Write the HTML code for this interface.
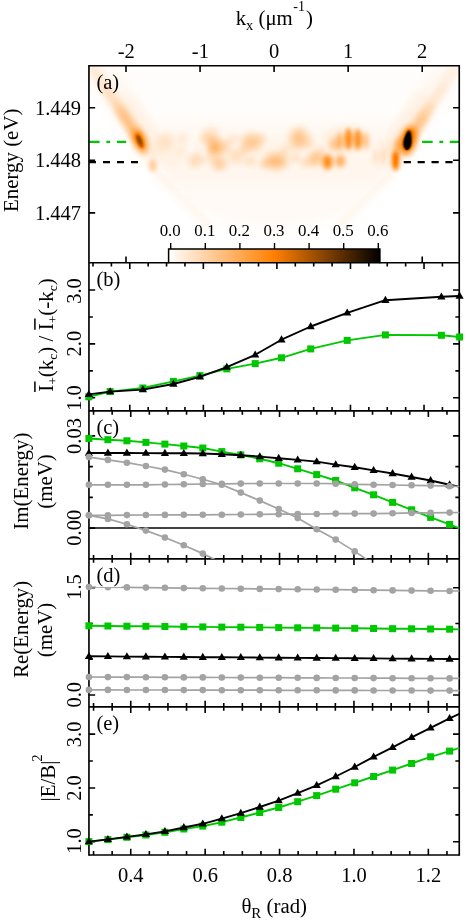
<!DOCTYPE html>
<html><head><meta charset="utf-8"><title>figure</title>
<style>html,body{margin:0;padding:0;background:#fff;}body{width:469px;height:923px;overflow:hidden;}svg{display:block;will-change:transform;}text{font-family:"Liberation Serif",serif;fill:#000;}</style></head><body>
<svg width="469" height="923" viewBox="0 0 469 923">
<rect width="469" height="923" fill="#fff"/>
<defs>
<linearGradient id="cb" x1="0" x2="1" y1="0" y2="0"><stop offset="0" stop-color="#fff"/><stop offset="0.5" stop-color="#ff8000"/><stop offset="1" stop-color="#000"/></linearGradient>
<filter id="b2" x="-50%" y="-50%" width="200%" height="200%"><feGaussianBlur stdDeviation="2"/></filter>
<filter id="b3" x="-50%" y="-50%" width="200%" height="200%"><feGaussianBlur stdDeviation="3"/></filter>
<filter id="b4" x="-50%" y="-50%" width="200%" height="200%"><feGaussianBlur stdDeviation="4"/></filter>
<filter id="b6" x="-50%" y="-50%" width="200%" height="200%"><feGaussianBlur stdDeviation="6"/></filter>
<filter id="b8" x="-50%" y="-50%" width="200%" height="200%"><feGaussianBlur stdDeviation="8"/></filter>
<filter id="b12" x="-50%" y="-50%" width="200%" height="200%"><feGaussianBlur stdDeviation="12"/></filter>
<filter id="b1" x="-50%" y="-50%" width="200%" height="200%"><feGaussianBlur stdDeviation="1"/></filter>
<filter id="b15" x="-50%" y="-50%" width="200%" height="200%"><feGaussianBlur stdDeviation="1.5"/></filter>
<clipPath id="cpa"><rect x="88.95" y="65.7" width="370.3" height="197.0"/></clipPath>
<clipPath id="cp1"><rect x="82.95" y="262.7" width="382.3" height="148.2"/></clipPath>
<clipPath id="cp2"><rect x="82.95" y="410.9" width="382.3" height="148.0"/></clipPath>
<clipPath id="cp3"><rect x="82.95" y="558.9" width="382.3" height="148.0"/></clipPath>
<clipPath id="cp4"><rect x="82.95" y="706.9" width="382.3" height="148.10000000000002"/></clipPath>
</defs>
<g clip-path="url(#cpa)">
<filter id="cmap" x="0" y="0" width="100%" height="100%" filterUnits="objectBoundingBox" color-interpolation-filters="sRGB"><feComponentTransfer><feFuncR type="table" tableValues="1 1 0"/><feFuncG type="table" tableValues="1 0.5 0"/><feFuncB type="table" tableValues="1 0 0"/></feComponentTransfer></filter>
<filter id="hb9" x="-100%" y="-100%" width="300%" height="300%" filterUnits="objectBoundingBox" color-interpolation-filters="sRGB"><feGaussianBlur stdDeviation="9"/></filter>
<filter id="hb5" x="-100%" y="-100%" width="300%" height="300%" filterUnits="objectBoundingBox" color-interpolation-filters="sRGB"><feGaussianBlur stdDeviation="5"/></filter>
<filter id="hb10" x="-100%" y="-100%" width="300%" height="300%" filterUnits="objectBoundingBox" color-interpolation-filters="sRGB"><feGaussianBlur stdDeviation="10"/></filter>
<filter id="hb8" x="-100%" y="-100%" width="300%" height="300%" filterUnits="objectBoundingBox" color-interpolation-filters="sRGB"><feGaussianBlur stdDeviation="8"/></filter>
<filter id="hb6" x="-100%" y="-100%" width="300%" height="300%" filterUnits="objectBoundingBox" color-interpolation-filters="sRGB"><feGaussianBlur stdDeviation="6"/></filter>
<filter id="hb3_5" x="-100%" y="-100%" width="300%" height="300%" filterUnits="objectBoundingBox" color-interpolation-filters="sRGB"><feGaussianBlur stdDeviation="3.5"/></filter>
<filter id="hb4_5" x="-100%" y="-100%" width="300%" height="300%" filterUnits="objectBoundingBox" color-interpolation-filters="sRGB"><feGaussianBlur stdDeviation="4.5"/></filter>
<filter id="hb7" x="-100%" y="-100%" width="300%" height="300%" filterUnits="objectBoundingBox" color-interpolation-filters="sRGB"><feGaussianBlur stdDeviation="7"/></filter>
<filter id="hb4" x="-100%" y="-100%" width="300%" height="300%" filterUnits="objectBoundingBox" color-interpolation-filters="sRGB"><feGaussianBlur stdDeviation="4"/></filter>
<filter id="hb3" x="-100%" y="-100%" width="300%" height="300%" filterUnits="objectBoundingBox" color-interpolation-filters="sRGB"><feGaussianBlur stdDeviation="3"/></filter>
<filter id="hb1_5" x="-100%" y="-100%" width="300%" height="300%" filterUnits="objectBoundingBox" color-interpolation-filters="sRGB"><feGaussianBlur stdDeviation="1.5"/></filter>
<filter id="hb2_8" x="-100%" y="-100%" width="300%" height="300%" filterUnits="objectBoundingBox" color-interpolation-filters="sRGB"><feGaussianBlur stdDeviation="2.8"/></filter>
<filter id="hb3_2" x="-100%" y="-100%" width="300%" height="300%" filterUnits="objectBoundingBox" color-interpolation-filters="sRGB"><feGaussianBlur stdDeviation="3.2"/></filter>
<filter id="hb1_1" x="-100%" y="-100%" width="300%" height="300%" filterUnits="objectBoundingBox" color-interpolation-filters="sRGB"><feGaussianBlur stdDeviation="1.1"/></filter>
<filter id="hb1_0" x="-100%" y="-100%" width="300%" height="300%" filterUnits="objectBoundingBox" color-interpolation-filters="sRGB"><feGaussianBlur stdDeviation="1.0"/></filter>
<filter id="hb0_6" x="-100%" y="-100%" width="300%" height="300%" filterUnits="objectBoundingBox" color-interpolation-filters="sRGB"><feGaussianBlur stdDeviation="0.6"/></filter>
<filter id="hb2" x="-100%" y="-100%" width="300%" height="300%" filterUnits="objectBoundingBox" color-interpolation-filters="sRGB"><feGaussianBlur stdDeviation="2"/></filter>
<filter id="hb2_4" x="-100%" y="-100%" width="300%" height="300%" filterUnits="objectBoundingBox" color-interpolation-filters="sRGB"><feGaussianBlur stdDeviation="2.4"/></filter>
<filter id="hb3_8" x="-100%" y="-100%" width="300%" height="300%" filterUnits="objectBoundingBox" color-interpolation-filters="sRGB"><feGaussianBlur stdDeviation="3.8"/></filter>
<filter id="hb3_6" x="-100%" y="-100%" width="300%" height="300%" filterUnits="objectBoundingBox" color-interpolation-filters="sRGB"><feGaussianBlur stdDeviation="3.6"/></filter>
<filter id="hb2_6" x="-100%" y="-100%" width="300%" height="300%" filterUnits="objectBoundingBox" color-interpolation-filters="sRGB"><feGaussianBlur stdDeviation="2.6"/></filter>
<filter id="hb2_3" x="-100%" y="-100%" width="300%" height="300%" filterUnits="objectBoundingBox" color-interpolation-filters="sRGB"><feGaussianBlur stdDeviation="2.3"/></filter>
<g filter="url(#cmap)"><rect x="80" y="55" width="390" height="220" fill="#000"/>
<path d="M92 66 L140 141 L152 166 L196 212 Q274 262 352 212 L396 166 L408 141 L456 66 Z" fill="#fff" fill-opacity="0.006" filter="url(#hb9)"/>
<path d="M120 105 L140 141 L152 166 L196 212 Q274 262 352 212 L396 166 L408 141 L428 105 Z" fill="#fff" fill-opacity="0.006" filter="url(#hb9)"/>
<path d="M150 158 H398 L345 214 Q274 240 203 214 Z" fill="#fff" fill-opacity="0.012" filter="url(#hb5)"/>
<path d="M150 122 H398 L392 172 L380 186 H168 L156 172 Z" fill="#fff" fill-opacity="0.018" filter="url(#hb10)"/>
<path d="M104 72 L151 147" fill="none" stroke="#fff" stroke-opacity="0.025" stroke-width="30" stroke-linecap="round" filter="url(#hb8)"/>
<path d="M444 72 L397 147" fill="none" stroke="#fff" stroke-opacity="0.025" stroke-width="30" stroke-linecap="round" filter="url(#hb8)"/>
<path d="M126 102 L153 147" fill="none" stroke="#fff" stroke-opacity="0.03" stroke-width="22" stroke-linecap="round" filter="url(#hb6)"/>
<path d="M422 102 L395 147" fill="none" stroke="#fff" stroke-opacity="0.035" stroke-width="22" stroke-linecap="round" filter="url(#hb6)"/>
<path d="M90 64 L139 139" fill="none" stroke="#fff" stroke-opacity="0.075" stroke-width="11" stroke-linecap="round" filter="url(#hb3_5)"/>
<path d="M105 88 L140 141" fill="none" stroke="#fff" stroke-opacity="0.05" stroke-width="10" stroke-linecap="round" filter="url(#hb3_5)"/>
<path d="M118 108 L141 143" fill="none" stroke="#fff" stroke-opacity="0.06" stroke-width="10" stroke-linecap="round" filter="url(#hb3_5)"/>
<path d="M458 64 L409 139" fill="none" stroke="#fff" stroke-opacity="0.05" stroke-width="11" stroke-linecap="round" filter="url(#hb3_5)"/>
<path d="M443 88 L408 141" fill="none" stroke="#fff" stroke-opacity="0.035" stroke-width="10" stroke-linecap="round" filter="url(#hb3_5)"/>
<path d="M430 108 L407 143" fill="none" stroke="#fff" stroke-opacity="0.06" stroke-width="10" stroke-linecap="round" filter="url(#hb3_5)"/>
<path d="M142 146 L156 172 L208 224" fill="none" stroke="#fff" stroke-opacity="0.035" stroke-width="9" stroke-linecap="round" filter="url(#hb3_5)"/>
<path d="M406 146 L392 172 L340 224" fill="none" stroke="#fff" stroke-opacity="0.035" stroke-width="9" stroke-linecap="round" filter="url(#hb3_5)"/>
<ellipse cx="347" cy="140" rx="22" ry="11" fill="#fff" fill-opacity="0.09" filter="url(#hb6)"/>
<ellipse cx="331" cy="161" rx="17" ry="6" fill="#fff" fill-opacity="0.08" filter="url(#hb4_5)"/>
<ellipse cx="216" cy="148" rx="18" ry="12" fill="#fff" fill-opacity="0.04" filter="url(#hb6)"/>
<ellipse cx="268" cy="152" rx="30" ry="14" fill="#fff" fill-opacity="0.025" filter="url(#hb8)"/>
<ellipse cx="300" cy="140" rx="14" ry="12" fill="#fff" fill-opacity="0.04" filter="url(#hb6)"/>
<ellipse cx="385" cy="155" rx="14" ry="12" fill="#fff" fill-opacity="0.05" filter="url(#hb6)"/>
<ellipse cx="170" cy="150" rx="16" ry="14" fill="#fff" fill-opacity="0.04" filter="url(#hb7)"/>
<path d="M423 117 L409 139" fill="none" stroke="#fff" stroke-opacity="0.1" stroke-width="11" stroke-linecap="round" filter="url(#hb4)"/>
<path d="M123 114 L139 139" fill="none" stroke="#fff" stroke-opacity="0.09" stroke-width="11" stroke-linecap="round" filter="url(#hb4)"/>
<ellipse cx="140" cy="141.5" rx="6.2" ry="13" fill="#fff" fill-opacity="0.33" filter="url(#hb3)" transform="rotate(-22 140 141.5)"/>
<ellipse cx="139.8" cy="141.3" rx="3.0" ry="7.8" fill="#fff" fill-opacity="0.5" filter="url(#hb1_5)" transform="rotate(-22 139.8 141.3)"/>
<ellipse cx="152.8" cy="165.5" rx="3.5" ry="6.5" fill="#fff" fill-opacity="0.2" filter="url(#hb2_8)"/>
<ellipse cx="408" cy="141" rx="8" ry="14.5" fill="#fff" fill-opacity="0.45" filter="url(#hb3_2)" transform="rotate(14 408 141)"/>
<ellipse cx="407.4" cy="143" rx="4.3" ry="7.2" fill="#fff" fill-opacity="1.0" filter="url(#hb1_1)" transform="rotate(4 407.4 143)"/>
<ellipse cx="408.2" cy="137.5" rx="3.0" ry="7.5" fill="#fff" fill-opacity="1.0" filter="url(#hb1_0)" transform="rotate(7 408.2 137.5)"/>
<ellipse cx="407.6" cy="141.5" rx="3.0" ry="8.5" fill="#fff" fill-opacity="1.0" filter="url(#hb0_6)" transform="rotate(5 407.6 141.5)"/>
<ellipse cx="395.6" cy="161" rx="3.4" ry="9.5" fill="#fff" fill-opacity="0.56" filter="url(#hb2)"/>
<ellipse cx="397" cy="147" rx="3" ry="10" fill="#fff" fill-opacity="0.22" filter="url(#hb2_4)" transform="rotate(8 397 147)"/>
<ellipse cx="165.6" cy="140.7" rx="7" ry="8" fill="#fff" fill-opacity="0.08" filter="url(#hb4)"/>
<ellipse cx="216.8" cy="147.5" rx="7" ry="7" fill="#fff" fill-opacity="0.27" filter="url(#hb4)"/>
<ellipse cx="210.4" cy="135.6" rx="8" ry="7" fill="#fff" fill-opacity="0.13" filter="url(#hb4)"/>
<ellipse cx="195" cy="160" rx="6" ry="7" fill="#fff" fill-opacity="0.13" filter="url(#hb3_8)"/>
<ellipse cx="219.3" cy="163.7" rx="7" ry="6" fill="#fff" fill-opacity="0.18" filter="url(#hb3_6)"/>
<ellipse cx="236" cy="156" rx="7" ry="7" fill="#fff" fill-opacity="0.13" filter="url(#hb4)"/>
<ellipse cx="251.5" cy="142" rx="10" ry="8" fill="#fff" fill-opacity="0.2" filter="url(#hb4_5)"/>
<ellipse cx="298.9" cy="138.5" rx="8" ry="10" fill="#fff" fill-opacity="0.2" filter="url(#hb4_5)"/>
<ellipse cx="275.8" cy="161.2" rx="11" ry="7" fill="#fff" fill-opacity="0.25" filter="url(#hb4_5)"/>
<ellipse cx="314.2" cy="158.6" rx="7" ry="7" fill="#fff" fill-opacity="0.19" filter="url(#hb3_8)"/>
<ellipse cx="327.5" cy="162" rx="4.5" ry="7.5" fill="#fff" fill-opacity="0.42" filter="url(#hb2_6)"/>
<ellipse cx="340.5" cy="161" rx="4.5" ry="6" fill="#fff" fill-opacity="0.26" filter="url(#hb2_8)"/>
<ellipse cx="339.5" cy="142" rx="3" ry="9" fill="#fff" fill-opacity="0.26" filter="url(#hb2_4)"/>
<ellipse cx="348.5" cy="139" rx="3.6" ry="11" fill="#fff" fill-opacity="0.4" filter="url(#hb2_3)"/>
<ellipse cx="357.8" cy="139.5" rx="3.6" ry="10.5" fill="#fff" fill-opacity="0.38" filter="url(#hb2_3)"/>
<ellipse cx="365.5" cy="141" rx="3" ry="8.5" fill="#fff" fill-opacity="0.2" filter="url(#hb2_4)"/>
<ellipse cx="375" cy="157" rx="2" ry="8" fill="#fff" fill-opacity="0.07" filter="url(#hb2)"/>
<ellipse cx="212" cy="150" rx="3" ry="14" fill="#fff" fill-opacity="0.1" filter="url(#hb3)"/>
<ellipse cx="183" cy="138" rx="5" ry="5" fill="#fff" fill-opacity="0.07" filter="url(#hb3_5)"/>
<ellipse cx="181" cy="152" rx="4" ry="5" fill="#fff" fill-opacity="0.06" filter="url(#hb3_5)"/>
<ellipse cx="204.5" cy="139" rx="5" ry="4" fill="#fff" fill-opacity="0.08" filter="url(#hb3)"/>
<ellipse cx="233" cy="139" rx="6" ry="4" fill="#fff" fill-opacity="0.09" filter="url(#hb3)"/>
<ellipse cx="244" cy="150" rx="5" ry="5" fill="#fff" fill-opacity="0.07" filter="url(#hb3)"/>
<ellipse cx="262" cy="138" rx="5" ry="4" fill="#fff" fill-opacity="0.08" filter="url(#hb3)"/>
<ellipse cx="285" cy="150" rx="6" ry="5" fill="#fff" fill-opacity="0.08" filter="url(#hb3_5)"/>
<ellipse cx="250" cy="161" rx="6" ry="4" fill="#fff" fill-opacity="0.1" filter="url(#hb3)"/>
<ellipse cx="264" cy="164" rx="5" ry="3.5" fill="#fff" fill-opacity="0.1" filter="url(#hb3)"/>
<ellipse cx="296" cy="158" rx="6" ry="4" fill="#fff" fill-opacity="0.1" filter="url(#hb3)"/>
<ellipse cx="305" cy="163" rx="5" ry="4" fill="#fff" fill-opacity="0.1" filter="url(#hb3)"/>
<ellipse cx="320.5" cy="152" rx="5" ry="6" fill="#fff" fill-opacity="0.1" filter="url(#hb3)"/>
<ellipse cx="333" cy="145" rx="4" ry="6" fill="#fff" fill-opacity="0.14" filter="url(#hb2_8)"/>
<ellipse cx="310" cy="143" rx="5" ry="5" fill="#fff" fill-opacity="0.08" filter="url(#hb3)"/>
<ellipse cx="204" cy="160" rx="4" ry="4" fill="#fff" fill-opacity="0.08" filter="url(#hb3)"/>
<ellipse cx="227" cy="146" rx="4" ry="5" fill="#fff" fill-opacity="0.08" filter="url(#hb3)"/>
<ellipse cx="382.7" cy="157" rx="2" ry="8" fill="#fff" fill-opacity="0.07" filter="url(#hb2)"/>
</g>
</g>
<g stroke-width="2.4" fill="none">
<path d="M89.2 141.9H126.2" stroke="#00c800" stroke-dasharray="10.4 6.8 3.7 6.8"/>
<path d="M422.1 141.9H459" stroke="#00c800" stroke-dasharray="10.6 6.7 3.8 6.6"/>
<path d="M89 162.1H138" stroke="#000" stroke-dasharray="7 7"/>
<path d="M403.7 162.1H459" stroke="#000" stroke-dasharray="7.2 6.7"/>
</g>
<rect x="168.4" y="249" width="211.6" height="14" fill="url(#cb)" stroke="none"/>
<rect x="169.6" y="249.6" width="3" height="13" fill="#fff"/>
<path d="M168.6 263.2V248.9H379.9V263.2" fill="none" stroke="#000" stroke-width="1.5"/>
<path d="M170.7 248.9V243" stroke="#000" stroke-width="1.4"/>
<text x="170.2" y="236.0" font-size="16.9" text-anchor="middle">0.0</text>
<path d="M205.3 248.9V243" stroke="#000" stroke-width="1.4"/>
<text x="204.8" y="236.0" font-size="16.9" text-anchor="middle">0.1</text>
<path d="M239.9 248.9V243" stroke="#000" stroke-width="1.4"/>
<text x="239.4" y="236.0" font-size="16.9" text-anchor="middle">0.2</text>
<path d="M274.5 248.9V243" stroke="#000" stroke-width="1.4"/>
<text x="274.0" y="236.0" font-size="16.9" text-anchor="middle">0.3</text>
<path d="M309.1 248.9V243" stroke="#000" stroke-width="1.4"/>
<text x="308.6" y="236.0" font-size="16.9" text-anchor="middle">0.4</text>
<path d="M343.7 248.9V243" stroke="#000" stroke-width="1.4"/>
<text x="343.2" y="236.0" font-size="16.9" text-anchor="middle">0.5</text>
<path d="M378.3 248.9V243" stroke="#000" stroke-width="1.4"/>
<text x="377.8" y="236.0" font-size="16.9" text-anchor="middle">0.6</text>
<g stroke="#000" stroke-width="1.65" fill="none" stroke-linecap="butt">
<path d="M88.95 64.88000000000001V855.82"/>
<path d="M459.25 64.88000000000001V855.82"/>
<path d="M88.95 65.7H459.25"/>
<path d="M88.95 262.7H459.25"/>
<path d="M88.95 410.9H459.25"/>
<path d="M88.95 558.9H459.25"/>
<path d="M88.95 706.9H459.25"/>
<path d="M88.95 855.0H459.25"/>
</g>
<path d="M126.00 65.70V71.90M126.00 262.70V256.50M200.05 65.70V71.90M274.10 65.70V71.90M348.15 65.70V71.90M422.20 65.70V71.90M422.20 262.70V256.50M88.95 107.75H95.15M459.25 107.75H453.05M88.95 160.30H95.15M459.25 160.30H453.05M88.95 212.90H95.15M459.25 212.90H453.05M93.01 262.70V266.60M93.01 410.90V407.00M111.40 262.70V266.60M111.40 410.90V407.00M129.79 262.70V268.90M129.79 410.90V404.70M148.18 262.70V266.60M148.18 410.90V407.00M166.57 262.70V266.60M166.57 410.90V407.00M184.96 262.70V266.60M184.96 410.90V407.00M203.35 262.70V268.90M203.35 410.90V404.70M221.74 262.70V266.60M221.74 410.90V407.00M240.13 262.70V266.60M240.13 410.90V407.00M258.52 262.70V266.60M258.52 410.90V407.00M276.91 262.70V268.90M276.91 410.90V404.70M295.30 262.70V266.60M295.30 410.90V407.00M313.69 262.70V266.60M313.69 410.90V407.00M332.08 262.70V266.60M332.08 410.90V407.00M350.47 262.70V268.90M350.47 410.90V404.70M368.86 262.70V266.60M368.86 410.90V407.00M387.25 262.70V266.60M387.25 410.90V407.00M405.64 262.70V266.60M405.64 410.90V407.00M424.03 262.70V268.90M424.03 410.90V404.70M442.42 262.70V266.60M442.42 410.90V407.00M93.55 410.90V414.80M93.55 558.90V555.00M112.15 410.90V414.80M112.15 558.90V555.00M130.75 410.90V417.10M130.75 558.90V552.70M149.35 410.90V414.80M149.35 558.90V555.00M167.95 410.90V414.80M167.95 558.90V555.00M186.55 410.90V414.80M186.55 558.90V555.00M205.15 410.90V417.10M205.15 558.90V552.70M223.75 410.90V414.80M223.75 558.90V555.00M242.35 410.90V414.80M242.35 558.90V555.00M260.95 410.90V414.80M260.95 558.90V555.00M279.55 410.90V417.10M279.55 558.90V552.70M298.15 410.90V414.80M298.15 558.90V555.00M316.75 410.90V414.80M316.75 558.90V555.00M335.35 410.90V414.80M335.35 558.90V555.00M353.95 410.90V417.10M353.95 558.90V552.70M372.55 410.90V414.80M372.55 558.90V555.00M391.15 410.90V414.80M391.15 558.90V555.00M409.75 410.90V414.80M409.75 558.90V555.00M428.35 410.90V417.10M428.35 558.90V552.70M446.95 410.90V414.80M446.95 558.90V555.00M93.55 558.90V562.80M93.55 706.90V703.00M112.15 558.90V562.80M112.15 706.90V703.00M130.75 558.90V565.10M130.75 706.90V700.70M149.35 558.90V562.80M149.35 706.90V703.00M167.95 558.90V562.80M167.95 706.90V703.00M186.55 558.90V562.80M186.55 706.90V703.00M205.15 558.90V565.10M205.15 706.90V700.70M223.75 558.90V562.80M223.75 706.90V703.00M242.35 558.90V562.80M242.35 706.90V703.00M260.95 558.90V562.80M260.95 706.90V703.00M279.55 558.90V565.10M279.55 706.90V700.70M298.15 558.90V562.80M298.15 706.90V703.00M316.75 558.90V562.80M316.75 706.90V703.00M335.35 558.90V562.80M335.35 706.90V703.00M353.95 558.90V565.10M353.95 706.90V700.70M372.55 558.90V562.80M372.55 706.90V703.00M391.15 558.90V562.80M391.15 706.90V703.00M409.75 558.90V562.80M409.75 706.90V703.00M428.35 558.90V565.10M428.35 706.90V700.70M446.95 558.90V562.80M446.95 706.90V703.00M93.55 706.90V710.80M93.55 855.00V851.10M112.15 706.90V710.80M112.15 855.00V851.10M130.75 706.90V713.10M130.75 855.00V848.80M149.35 706.90V710.80M149.35 855.00V851.10M167.95 706.90V710.80M167.95 855.00V851.10M186.55 706.90V710.80M186.55 855.00V851.10M205.15 706.90V713.10M205.15 855.00V848.80M223.75 706.90V710.80M223.75 855.00V851.10M242.35 706.90V710.80M242.35 855.00V851.10M260.95 706.90V710.80M260.95 855.00V851.10M279.55 706.90V713.10M279.55 855.00V848.80M298.15 706.90V710.80M298.15 855.00V851.10M316.75 706.90V710.80M316.75 855.00V851.10M335.35 706.90V710.80M335.35 855.00V851.10M353.95 706.90V713.10M353.95 855.00V848.80M372.55 706.90V710.80M372.55 855.00V851.10M391.15 706.90V710.80M391.15 855.00V851.10M409.75 706.90V710.80M409.75 855.00V851.10M428.35 706.90V713.10M428.35 855.00V848.80M446.95 706.90V710.80M446.95 855.00V851.10M88.95 290.00H95.15M459.25 290.00H453.05M88.95 316.95H92.85M459.25 316.95H455.35M88.95 343.90H95.15M459.25 343.90H453.05M88.95 370.85H92.85M459.25 370.85H455.35M88.95 397.80H95.15M459.25 397.80H453.05M88.95 435.90H95.15M459.25 435.90H453.05M88.95 466.60H92.85M459.25 466.60H455.35M88.95 497.40H92.85M459.25 497.40H455.35M88.95 528.10H95.15M459.25 528.10H453.05M88.95 587.80H95.15M459.25 587.80H453.05M88.95 623.50H92.85M459.25 623.50H455.35M88.95 659.30H92.85M459.25 659.30H455.35M88.95 695.00H95.15M459.25 695.00H453.05M88.95 734.10H95.15M459.25 734.10H453.05M88.95 761.00H92.85M459.25 761.00H455.35M88.95 787.95H95.15M459.25 787.95H453.05M88.95 814.90H92.85M459.25 814.90H455.35M88.95 841.80H95.15M459.25 841.80H453.05" stroke="#000" stroke-width="1.6" fill="none"/>
<path d="M88.95 528.1H459.25" stroke="#000" stroke-width="1.5"/>
<g clip-path="url(#cp1)">
<path d="M88.8 396.8L110.1 391.6L142.9 388.0L173.4 381.4L199.9 375.6L226.8 368.9L255.2 363.6L281.5 357.8L310.7 348.9L347.2 340.4L385.4 334.9L441.4 335.3L459.6 337.0" fill="none" stroke="#00c800" stroke-width="1.9" stroke-linejoin="round"/><g fill="#00c800"><rect x="85.3" y="393.3" width="7" height="7"/><rect x="106.6" y="388.1" width="7" height="7"/><rect x="139.4" y="384.5" width="7" height="7"/><rect x="169.9" y="377.9" width="7" height="7"/><rect x="196.4" y="372.1" width="7" height="7"/><rect x="223.3" y="365.4" width="7" height="7"/><rect x="251.7" y="360.1" width="7" height="7"/><rect x="278.0" y="354.3" width="7" height="7"/><rect x="307.2" y="345.4" width="7" height="7"/><rect x="343.7" y="336.9" width="7" height="7"/><rect x="381.9" y="331.4" width="7" height="7"/><rect x="437.9" y="331.8" width="7" height="7"/><rect x="456.1" y="333.5" width="7" height="7"/></g>
<path d="M88.8 394.4L110.1 391.6L142.9 389.6L173.4 384.0L199.9 376.8L226.8 367.1L255.2 354.8L281.5 339.7L310.7 326.5L347.2 312.9L385.4 300.2L441.4 296.8L459.6 296.0" fill="none" stroke="#000" stroke-width="1.9" stroke-linejoin="round"/><g fill="#000"><path d="M88.8 390.0l4.1 7.1h-8.2z"/><path d="M110.1 387.2l4.1 7.1h-8.2z"/><path d="M142.9 385.2l4.1 7.1h-8.2z"/><path d="M173.4 379.6l4.1 7.1h-8.2z"/><path d="M199.9 372.4l4.1 7.1h-8.2z"/><path d="M226.8 362.7l4.1 7.1h-8.2z"/><path d="M255.2 350.4l4.1 7.1h-8.2z"/><path d="M281.5 335.3l4.1 7.1h-8.2z"/><path d="M310.7 322.1l4.1 7.1h-8.2z"/><path d="M347.2 308.5l4.1 7.1h-8.2z"/><path d="M385.4 295.8l4.1 7.1h-8.2z"/><path d="M441.4 292.4l4.1 7.1h-8.2z"/><path d="M459.6 291.6l4.1 7.1h-8.2z"/></g>
</g>
<g clip-path="url(#cp2)">
<path d="M88.9 438.5L107.9 439.7L126.9 440.8L145.9 442.4L164.9 444.1L183.8 446.0L202.8 448.0L221.8 451.6L240.8 454.9L259.8 458.8L278.7 463.2L297.7 468.8L316.7 474.6L335.7 480.5L354.7 487.8L373.6 494.8L392.6 502.4L411.6 509.8L430.6 517.4L449.6 524.4L459.3 528.3" fill="none" stroke="#00c800" stroke-width="1.9" stroke-linejoin="round"/><g fill="#00c800"><rect x="85.4" y="435.0" width="7" height="7"/><rect x="104.4" y="436.2" width="7" height="7"/><rect x="123.4" y="437.3" width="7" height="7"/><rect x="142.4" y="438.9" width="7" height="7"/><rect x="161.4" y="440.6" width="7" height="7"/><rect x="180.3" y="442.5" width="7" height="7"/><rect x="199.3" y="444.5" width="7" height="7"/><rect x="218.3" y="448.1" width="7" height="7"/><rect x="237.3" y="451.4" width="7" height="7"/><rect x="256.2" y="455.3" width="7" height="7"/><rect x="275.2" y="459.7" width="7" height="7"/><rect x="294.2" y="465.3" width="7" height="7"/><rect x="313.2" y="471.1" width="7" height="7"/><rect x="332.2" y="477.0" width="7" height="7"/><rect x="351.2" y="484.3" width="7" height="7"/><rect x="370.1" y="491.3" width="7" height="7"/><rect x="389.1" y="498.9" width="7" height="7"/><rect x="408.1" y="506.3" width="7" height="7"/><rect x="427.1" y="513.9" width="7" height="7"/><rect x="446.1" y="520.9" width="7" height="7"/></g>
<path d="M88.9 453.0L107.9 453.0L126.9 453.0L145.9 453.1L164.9 453.2L183.8 453.3L202.8 453.5L221.8 454.3L240.8 455.2L259.8 456.6L278.7 458.2L297.7 459.9L316.7 461.6L335.7 464.6L354.7 467.2L373.6 470.4L392.6 473.5L411.6 477.0L430.6 480.5L449.6 484.7L459.3 486.6" fill="none" stroke="#000" stroke-width="1.9" stroke-linejoin="round"/><g fill="#000"><path d="M88.9 448.6l4.1 7.1h-8.2z"/><path d="M107.9 448.6l4.1 7.1h-8.2z"/><path d="M126.9 448.6l4.1 7.1h-8.2z"/><path d="M145.9 448.7l4.1 7.1h-8.2z"/><path d="M164.9 448.8l4.1 7.1h-8.2z"/><path d="M183.8 448.9l4.1 7.1h-8.2z"/><path d="M202.8 449.1l4.1 7.1h-8.2z"/><path d="M221.8 449.9l4.1 7.1h-8.2z"/><path d="M240.8 450.8l4.1 7.1h-8.2z"/><path d="M259.8 452.2l4.1 7.1h-8.2z"/><path d="M278.7 453.8l4.1 7.1h-8.2z"/><path d="M297.7 455.5l4.1 7.1h-8.2z"/><path d="M316.7 457.2l4.1 7.1h-8.2z"/><path d="M335.7 460.2l4.1 7.1h-8.2z"/><path d="M354.7 462.8l4.1 7.1h-8.2z"/><path d="M373.6 466.0l4.1 7.1h-8.2z"/><path d="M392.6 469.1l4.1 7.1h-8.2z"/><path d="M411.6 472.6l4.1 7.1h-8.2z"/><path d="M430.6 476.1l4.1 7.1h-8.2z"/><path d="M449.6 480.3l4.1 7.1h-8.2z"/></g>
<path d="M88.9 457.1L107.9 459.9L126.9 462.7L145.9 466.0L164.9 469.6L183.8 474.3L202.8 479.3L221.8 484.8L240.8 492.6L259.8 500.6L278.7 509.0L297.7 518.1L316.7 529.2L335.7 539.6L354.7 551.4L373.6 564.0L392.6 577.0L411.6 590.0L430.6 603.0L449.6 616.0" fill="none" stroke="#a3a3a3" stroke-width="1.7" stroke-linejoin="round"/><g fill="#a3a3a3"><circle cx="88.9" cy="457.1" r="3.3"/><circle cx="107.9" cy="459.9" r="3.3"/><circle cx="126.9" cy="462.7" r="3.3"/><circle cx="145.9" cy="466.0" r="3.3"/><circle cx="164.9" cy="469.6" r="3.3"/><circle cx="183.8" cy="474.3" r="3.3"/><circle cx="202.8" cy="479.3" r="3.3"/><circle cx="221.8" cy="484.8" r="3.3"/><circle cx="240.8" cy="492.6" r="3.3"/><circle cx="259.8" cy="500.6" r="3.3"/><circle cx="278.7" cy="509.0" r="3.3"/><circle cx="297.7" cy="518.1" r="3.3"/><circle cx="316.7" cy="529.2" r="3.3"/><circle cx="335.7" cy="539.6" r="3.3"/><circle cx="354.7" cy="551.4" r="3.3"/><circle cx="373.6" cy="564.0" r="3.3"/><circle cx="392.6" cy="577.0" r="3.3"/><circle cx="411.6" cy="590.0" r="3.3"/><circle cx="430.6" cy="603.0" r="3.3"/><circle cx="449.6" cy="616.0" r="3.3"/></g>
<path d="M88.9 484.8L107.9 484.8L126.9 484.8L145.9 484.8L164.9 484.5L183.8 484.3L202.8 484.0L221.8 483.8L240.8 483.6L259.8 483.5L278.7 483.5L297.7 483.5L316.7 483.5L335.7 483.7L354.7 484.3L373.6 484.7L392.6 485.0L411.6 485.3L430.6 485.6L449.6 486.2L459.3 486.5" fill="none" stroke="#a3a3a3" stroke-width="1.7" stroke-linejoin="round"/><g fill="#a3a3a3"><circle cx="88.9" cy="484.8" r="3.3"/><circle cx="107.9" cy="484.8" r="3.3"/><circle cx="126.9" cy="484.8" r="3.3"/><circle cx="145.9" cy="484.8" r="3.3"/><circle cx="164.9" cy="484.5" r="3.3"/><circle cx="183.8" cy="484.3" r="3.3"/><circle cx="202.8" cy="484.0" r="3.3"/><circle cx="221.8" cy="483.8" r="3.3"/><circle cx="240.8" cy="483.6" r="3.3"/><circle cx="259.8" cy="483.5" r="3.3"/><circle cx="278.7" cy="483.5" r="3.3"/><circle cx="297.7" cy="483.5" r="3.3"/><circle cx="316.7" cy="483.5" r="3.3"/><circle cx="335.7" cy="483.7" r="3.3"/><circle cx="354.7" cy="484.3" r="3.3"/><circle cx="373.6" cy="484.7" r="3.3"/><circle cx="392.6" cy="485.0" r="3.3"/><circle cx="411.6" cy="485.3" r="3.3"/><circle cx="430.6" cy="485.6" r="3.3"/><circle cx="449.6" cy="486.2" r="3.3"/></g>
<path d="M88.9 515.3L107.9 515.3L126.9 515.1L145.9 515.0L164.9 514.9L183.8 514.8L202.8 514.8L221.8 514.7L240.8 514.5L259.8 514.3L278.7 514.2L297.7 514.1L316.7 514.0L335.7 513.6L354.7 513.6L373.6 513.6L392.6 513.3L411.6 512.9L430.6 512.9L449.6 512.6L459.3 512.5" fill="none" stroke="#a3a3a3" stroke-width="1.7" stroke-linejoin="round"/><g fill="#a3a3a3"><circle cx="88.9" cy="515.3" r="3.3"/><circle cx="107.9" cy="515.3" r="3.3"/><circle cx="126.9" cy="515.1" r="3.3"/><circle cx="145.9" cy="515.0" r="3.3"/><circle cx="164.9" cy="514.9" r="3.3"/><circle cx="183.8" cy="514.8" r="3.3"/><circle cx="202.8" cy="514.8" r="3.3"/><circle cx="221.8" cy="514.7" r="3.3"/><circle cx="240.8" cy="514.5" r="3.3"/><circle cx="259.8" cy="514.3" r="3.3"/><circle cx="278.7" cy="514.2" r="3.3"/><circle cx="297.7" cy="514.1" r="3.3"/><circle cx="316.7" cy="514.0" r="3.3"/><circle cx="335.7" cy="513.6" r="3.3"/><circle cx="354.7" cy="513.6" r="3.3"/><circle cx="373.6" cy="513.6" r="3.3"/><circle cx="392.6" cy="513.3" r="3.3"/><circle cx="411.6" cy="512.9" r="3.3"/><circle cx="430.6" cy="512.9" r="3.3"/><circle cx="449.6" cy="512.6" r="3.3"/></g>
<path d="M88.9 515.3L107.9 518.9L126.9 524.2L145.9 530.6L164.9 537.5L183.8 545.3L202.8 553.6L221.8 563.0L240.8 573.0L259.8 584.0L278.7 595.0L297.7 606.0L316.7 617.0L335.7 628.0L354.7 639.0L373.6 650.0L392.6 661.0L411.6 672.0L430.6 683.0L449.6 694.0" fill="none" stroke="#a3a3a3" stroke-width="1.7" stroke-linejoin="round"/><g fill="#a3a3a3"><circle cx="88.9" cy="515.3" r="3.3"/><circle cx="107.9" cy="518.9" r="3.3"/><circle cx="126.9" cy="524.2" r="3.3"/><circle cx="145.9" cy="530.6" r="3.3"/><circle cx="164.9" cy="537.5" r="3.3"/><circle cx="183.8" cy="545.3" r="3.3"/><circle cx="202.8" cy="553.6" r="3.3"/><circle cx="221.8" cy="563.0" r="3.3"/><circle cx="240.8" cy="573.0" r="3.3"/><circle cx="259.8" cy="584.0" r="3.3"/><circle cx="278.7" cy="595.0" r="3.3"/><circle cx="297.7" cy="606.0" r="3.3"/><circle cx="316.7" cy="617.0" r="3.3"/><circle cx="335.7" cy="628.0" r="3.3"/><circle cx="354.7" cy="639.0" r="3.3"/><circle cx="373.6" cy="650.0" r="3.3"/><circle cx="392.6" cy="661.0" r="3.3"/><circle cx="411.6" cy="672.0" r="3.3"/><circle cx="430.6" cy="683.0" r="3.3"/><circle cx="449.6" cy="694.0" r="3.3"/></g>
</g>
<g clip-path="url(#cp3)">
<path d="M88.9 625.8L107.9 626.0L126.9 626.2L145.9 626.3L164.9 626.5L183.8 626.7L202.8 626.9L221.8 627.1L240.8 627.2L259.8 627.4L278.7 627.6L297.7 627.8L316.7 627.9L335.7 628.1L354.7 628.3L373.6 628.5L392.6 628.7L411.6 628.8L430.6 629.0L449.6 629.2L459.3 629.4" fill="none" stroke="#00c800" stroke-width="1.9" stroke-linejoin="round"/><g fill="#00c800"><rect x="85.4" y="622.3" width="7" height="7"/><rect x="104.4" y="622.5" width="7" height="7"/><rect x="123.4" y="622.7" width="7" height="7"/><rect x="142.4" y="622.8" width="7" height="7"/><rect x="161.4" y="623.0" width="7" height="7"/><rect x="180.3" y="623.2" width="7" height="7"/><rect x="199.3" y="623.4" width="7" height="7"/><rect x="218.3" y="623.6" width="7" height="7"/><rect x="237.3" y="623.7" width="7" height="7"/><rect x="256.2" y="623.9" width="7" height="7"/><rect x="275.2" y="624.1" width="7" height="7"/><rect x="294.2" y="624.3" width="7" height="7"/><rect x="313.2" y="624.4" width="7" height="7"/><rect x="332.2" y="624.6" width="7" height="7"/><rect x="351.2" y="624.8" width="7" height="7"/><rect x="370.1" y="625.0" width="7" height="7"/><rect x="389.1" y="625.2" width="7" height="7"/><rect x="408.1" y="625.3" width="7" height="7"/><rect x="427.1" y="625.5" width="7" height="7"/><rect x="446.1" y="625.7" width="7" height="7"/></g>
<path d="M88.9 656.3L107.9 656.4L126.9 656.6L145.9 656.7L164.9 656.9L183.8 657.0L202.8 657.2L221.8 657.3L240.8 657.4L259.8 657.6L278.7 657.7L297.7 657.9L316.7 658.0L335.7 658.1L354.7 658.3L373.6 658.4L392.6 658.6L411.6 658.7L430.6 658.9L449.6 659.0L459.3 659.1" fill="none" stroke="#000" stroke-width="1.9" stroke-linejoin="round"/><g fill="#000"><path d="M88.9 651.9l4.1 7.1h-8.2z"/><path d="M107.9 652.0l4.1 7.1h-8.2z"/><path d="M126.9 652.2l4.1 7.1h-8.2z"/><path d="M145.9 652.3l4.1 7.1h-8.2z"/><path d="M164.9 652.5l4.1 7.1h-8.2z"/><path d="M183.8 652.6l4.1 7.1h-8.2z"/><path d="M202.8 652.8l4.1 7.1h-8.2z"/><path d="M221.8 652.9l4.1 7.1h-8.2z"/><path d="M240.8 653.0l4.1 7.1h-8.2z"/><path d="M259.8 653.2l4.1 7.1h-8.2z"/><path d="M278.7 653.3l4.1 7.1h-8.2z"/><path d="M297.7 653.5l4.1 7.1h-8.2z"/><path d="M316.7 653.6l4.1 7.1h-8.2z"/><path d="M335.7 653.7l4.1 7.1h-8.2z"/><path d="M354.7 653.9l4.1 7.1h-8.2z"/><path d="M373.6 654.0l4.1 7.1h-8.2z"/><path d="M392.6 654.2l4.1 7.1h-8.2z"/><path d="M411.6 654.3l4.1 7.1h-8.2z"/><path d="M430.6 654.5l4.1 7.1h-8.2z"/><path d="M449.6 654.6l4.1 7.1h-8.2z"/></g>
<path d="M88.9 587.0L107.9 587.2L126.9 587.4L145.9 587.6L164.9 587.8L183.8 588.1L202.8 588.3L221.8 588.5L240.8 588.7L259.8 588.9L278.7 589.1L297.7 589.3L316.7 589.5L335.7 589.7L354.7 589.9L373.6 590.2L392.6 590.4L411.6 590.6L430.6 590.8L449.6 591.0L459.3 591.0" fill="none" stroke="#a3a3a3" stroke-width="1.7" stroke-linejoin="round"/><g fill="#a3a3a3"><circle cx="88.9" cy="587.0" r="3.3"/><circle cx="107.9" cy="587.2" r="3.3"/><circle cx="126.9" cy="587.4" r="3.3"/><circle cx="145.9" cy="587.6" r="3.3"/><circle cx="164.9" cy="587.8" r="3.3"/><circle cx="183.8" cy="588.1" r="3.3"/><circle cx="202.8" cy="588.3" r="3.3"/><circle cx="221.8" cy="588.5" r="3.3"/><circle cx="240.8" cy="588.7" r="3.3"/><circle cx="259.8" cy="588.9" r="3.3"/><circle cx="278.7" cy="589.1" r="3.3"/><circle cx="297.7" cy="589.3" r="3.3"/><circle cx="316.7" cy="589.5" r="3.3"/><circle cx="335.7" cy="589.7" r="3.3"/><circle cx="354.7" cy="589.9" r="3.3"/><circle cx="373.6" cy="590.2" r="3.3"/><circle cx="392.6" cy="590.4" r="3.3"/><circle cx="411.6" cy="590.6" r="3.3"/><circle cx="430.6" cy="590.8" r="3.3"/><circle cx="449.6" cy="591.0" r="3.3"/></g>
<path d="M88.9 677.0L107.9 677.1L126.9 677.1L145.9 677.2L164.9 677.3L183.8 677.4L202.8 677.4L221.8 677.5L240.8 677.6L259.8 677.7L278.7 677.7L297.7 677.8L316.7 677.9L335.7 678.0L354.7 678.0L373.6 678.1L392.6 678.2L411.6 678.3L430.6 678.3L449.6 678.4L459.3 678.4" fill="none" stroke="#a3a3a3" stroke-width="1.7" stroke-linejoin="round"/><g fill="#a3a3a3"><circle cx="88.9" cy="677.0" r="3.3"/><circle cx="107.9" cy="677.1" r="3.3"/><circle cx="126.9" cy="677.1" r="3.3"/><circle cx="145.9" cy="677.2" r="3.3"/><circle cx="164.9" cy="677.3" r="3.3"/><circle cx="183.8" cy="677.4" r="3.3"/><circle cx="202.8" cy="677.4" r="3.3"/><circle cx="221.8" cy="677.5" r="3.3"/><circle cx="240.8" cy="677.6" r="3.3"/><circle cx="259.8" cy="677.7" r="3.3"/><circle cx="278.7" cy="677.7" r="3.3"/><circle cx="297.7" cy="677.8" r="3.3"/><circle cx="316.7" cy="677.9" r="3.3"/><circle cx="335.7" cy="678.0" r="3.3"/><circle cx="354.7" cy="678.0" r="3.3"/><circle cx="373.6" cy="678.1" r="3.3"/><circle cx="392.6" cy="678.2" r="3.3"/><circle cx="411.6" cy="678.3" r="3.3"/><circle cx="430.6" cy="678.3" r="3.3"/><circle cx="449.6" cy="678.4" r="3.3"/></g>
<path d="M88.9 689.9L107.9 689.9L126.9 690.0L145.9 690.0L164.9 690.0L183.8 690.1L202.8 690.1L221.8 690.2L240.8 690.2L259.8 690.2L278.7 690.3L297.7 690.3L316.7 690.3L335.7 690.4L354.7 690.4L373.6 690.5L392.6 690.5L411.6 690.5L430.6 690.6L449.6 690.6L459.3 690.6" fill="none" stroke="#a3a3a3" stroke-width="1.7" stroke-linejoin="round"/><g fill="#a3a3a3"><circle cx="88.9" cy="689.9" r="3.3"/><circle cx="107.9" cy="689.9" r="3.3"/><circle cx="126.9" cy="690.0" r="3.3"/><circle cx="145.9" cy="690.0" r="3.3"/><circle cx="164.9" cy="690.0" r="3.3"/><circle cx="183.8" cy="690.1" r="3.3"/><circle cx="202.8" cy="690.1" r="3.3"/><circle cx="221.8" cy="690.2" r="3.3"/><circle cx="240.8" cy="690.2" r="3.3"/><circle cx="259.8" cy="690.2" r="3.3"/><circle cx="278.7" cy="690.3" r="3.3"/><circle cx="297.7" cy="690.3" r="3.3"/><circle cx="316.7" cy="690.3" r="3.3"/><circle cx="335.7" cy="690.4" r="3.3"/><circle cx="354.7" cy="690.4" r="3.3"/><circle cx="373.6" cy="690.5" r="3.3"/><circle cx="392.6" cy="690.5" r="3.3"/><circle cx="411.6" cy="690.5" r="3.3"/><circle cx="430.6" cy="690.6" r="3.3"/><circle cx="449.6" cy="690.6" r="3.3"/></g>
</g>
<g clip-path="url(#cp4)">
<path d="M88.9 841.6L107.9 839.6L126.9 837.3L145.9 835.0L164.9 832.3L183.8 829.0L202.8 826.1L221.8 822.2L240.8 817.5L259.8 812.5L278.7 807.5L297.7 801.7L316.7 795.6L335.7 789.2L354.7 782.8L373.6 776.5L392.6 770.1L411.6 763.5L430.6 756.8L449.6 751.1L459.3 747.9" fill="none" stroke="#00c800" stroke-width="1.9" stroke-linejoin="round"/><g fill="#00c800"><rect x="85.4" y="838.1" width="7" height="7"/><rect x="104.4" y="836.1" width="7" height="7"/><rect x="123.4" y="833.8" width="7" height="7"/><rect x="142.4" y="831.5" width="7" height="7"/><rect x="161.4" y="828.8" width="7" height="7"/><rect x="180.3" y="825.5" width="7" height="7"/><rect x="199.3" y="822.6" width="7" height="7"/><rect x="218.3" y="818.7" width="7" height="7"/><rect x="237.3" y="814.0" width="7" height="7"/><rect x="256.2" y="809.0" width="7" height="7"/><rect x="275.2" y="804.0" width="7" height="7"/><rect x="294.2" y="798.2" width="7" height="7"/><rect x="313.2" y="792.1" width="7" height="7"/><rect x="332.2" y="785.7" width="7" height="7"/><rect x="351.2" y="779.3" width="7" height="7"/><rect x="370.1" y="773.0" width="7" height="7"/><rect x="389.1" y="766.6" width="7" height="7"/><rect x="408.1" y="760.0" width="7" height="7"/><rect x="427.1" y="753.3" width="7" height="7"/><rect x="446.1" y="747.6" width="7" height="7"/></g>
<path d="M88.9 841.6L107.9 839.4L126.9 836.9L145.9 834.4L164.9 831.4L183.8 827.5L202.8 823.8L221.8 818.6L240.8 813.1L259.8 807.0L278.7 800.6L297.7 793.1L316.7 785.4L335.7 776.5L354.7 767.0L373.6 756.8L392.6 747.3L411.6 737.4L430.6 727.9L449.6 718.3L459.3 713.9" fill="none" stroke="#000" stroke-width="1.9" stroke-linejoin="round"/><g fill="#000"><path d="M88.9 837.2l4.1 7.1h-8.2z"/><path d="M107.9 835.0l4.1 7.1h-8.2z"/><path d="M126.9 832.5l4.1 7.1h-8.2z"/><path d="M145.9 830.0l4.1 7.1h-8.2z"/><path d="M164.9 827.0l4.1 7.1h-8.2z"/><path d="M183.8 823.1l4.1 7.1h-8.2z"/><path d="M202.8 819.4l4.1 7.1h-8.2z"/><path d="M221.8 814.2l4.1 7.1h-8.2z"/><path d="M240.8 808.7l4.1 7.1h-8.2z"/><path d="M259.8 802.6l4.1 7.1h-8.2z"/><path d="M278.7 796.2l4.1 7.1h-8.2z"/><path d="M297.7 788.7l4.1 7.1h-8.2z"/><path d="M316.7 781.0l4.1 7.1h-8.2z"/><path d="M335.7 772.1l4.1 7.1h-8.2z"/><path d="M354.7 762.6l4.1 7.1h-8.2z"/><path d="M373.6 752.4l4.1 7.1h-8.2z"/><path d="M392.6 742.9l4.1 7.1h-8.2z"/><path d="M411.6 733.0l4.1 7.1h-8.2z"/><path d="M430.6 723.5l4.1 7.1h-8.2z"/><path d="M449.6 713.9l4.1 7.1h-8.2z"/></g>
</g>
<text x="126.3" y="57.6" font-size="20.5" text-anchor="middle" >-2</text>
<text x="200.4" y="57.6" font-size="20.5" text-anchor="middle" >-1</text>
<text x="274.1" y="57.6" font-size="20.5" text-anchor="middle" >0</text>
<text x="348.2" y="57.6" font-size="20.5" text-anchor="middle" >1</text>
<text x="422.2" y="57.6" font-size="20.5" text-anchor="middle" >2</text>
<text x="274.3" y="25.3" font-size="20.8" text-anchor="middle" >k<tspan font-size="14.5" dy="4.4">x</tspan><tspan dy="-4.4"> (μm</tspan><tspan font-size="14" dy="-14.6" dx="0.6">-1</tspan><tspan dy="14.6" dx="1">)</tspan></text>
<text x="130.8" y="882.0" font-size="20.5" text-anchor="middle" >0.4</text>
<text x="205.2" y="882.0" font-size="20.5" text-anchor="middle" >0.6</text>
<text x="279.6" y="882.0" font-size="20.5" text-anchor="middle" >0.8</text>
<text x="354.0" y="882.0" font-size="20.5" text-anchor="middle" >1.0</text>
<text x="428.4" y="882.0" font-size="20.5" text-anchor="middle" >1.2</text>
<text x="274.2" y="913.3" font-size="20.8" text-anchor="middle" >θ<tspan font-size="15" dy="4.2">R</tspan><tspan dy="-4.2"> (rad)</tspan></text>
<text x="81.0" y="114.7" font-size="20.5" text-anchor="end" >1.449</text>
<text x="81.0" y="167.2" font-size="20.5" text-anchor="end" >1.448</text>
<text x="81.0" y="219.8" font-size="20.5" text-anchor="end" >1.447</text>
<text transform="translate(17.6 160.3) rotate(-90)" font-size="20.9" text-anchor="middle">Energy (eV)</text>
<rect x="95.8" y="565" width="25.6" height="22.05" fill="#fff"/>
<text x="96.4" y="88.9" font-size="20.5" text-anchor="start" >(a)</text>
<text x="96.4" y="285.7" font-size="20.5" text-anchor="start" >(b)</text>
<text x="96.4" y="434.0" font-size="20.5" text-anchor="start" >(c)</text>
<text x="96.4" y="582.0" font-size="20.5" text-anchor="start" >(d)</text>
<text x="96.4" y="730.0" font-size="20.5" text-anchor="start" >(e)</text>
<text transform="translate(80.5 291.0) rotate(-90)" font-size="20.5" text-anchor="middle">3.0</text>
<text transform="translate(80.5 343.6) rotate(-90)" font-size="20.5" text-anchor="middle">2.0</text>
<text transform="translate(80.5 398.0) rotate(-90)" font-size="20.5" text-anchor="middle">1.0</text>
<text transform="translate(80.5 436.0) rotate(-90)" font-size="20.5" text-anchor="middle">0.03</text>
<text transform="translate(80.5 527.8) rotate(-90)" font-size="20.5" text-anchor="middle">0.00</text>
<text transform="translate(80.5 587.0) rotate(-90)" font-size="20.5" text-anchor="middle">1.5</text>
<text transform="translate(80.5 694.7) rotate(-90)" font-size="20.5" text-anchor="middle">0.0</text>
<text transform="translate(80.5 734.4) rotate(-90)" font-size="20.5" text-anchor="middle">3.0</text>
<text transform="translate(80.5 788.0) rotate(-90)" font-size="20.5" text-anchor="middle">2.0</text>
<text transform="translate(80.5 841.0) rotate(-90)" font-size="20.5" text-anchor="middle">1.0</text>
<text transform="translate(27.7 481.2) rotate(-90)" font-size="20.9" text-anchor="middle">Im(Energy)</text>
<text transform="translate(51.8 481.5) rotate(-90)" font-size="20.9" text-anchor="middle">(meV)</text>
<text transform="translate(27.7 629.3) rotate(-90)" font-size="20.9" text-anchor="middle">Re(Energy)</text>
<text transform="translate(51.8 630.0) rotate(-90)" font-size="20.9" text-anchor="middle">(meV)</text>
<text transform="translate(55.2 801.5) rotate(-90)" font-size="20.9" text-anchor="start">|E/B|<tspan font-size="14.5" dy="-13.6" dx="-1">2</tspan></text>
<g transform="translate(52.7 391.8) rotate(-90)"><text x="0" y="0" font-size="21" text-anchor="start">I<tspan font-size="13.5" dy="3.8">+</tspan><tspan dy="-3.8">(k</tspan><tspan font-size="13.5" dy="3.8">c</tspan><tspan dy="-3.8">) / I</tspan><tspan font-size="13.5" dy="3.8">+</tspan><tspan dy="-3.8">(-k</tspan><tspan font-size="13.5" dy="3.8">c</tspan><tspan dy="-3.8">)</tspan></text><path d="M-0.3 -17.8H10.4M62.0 -17.8H73.2" stroke="#000" stroke-width="1.5" fill="none"/></g>
</svg></body></html>
